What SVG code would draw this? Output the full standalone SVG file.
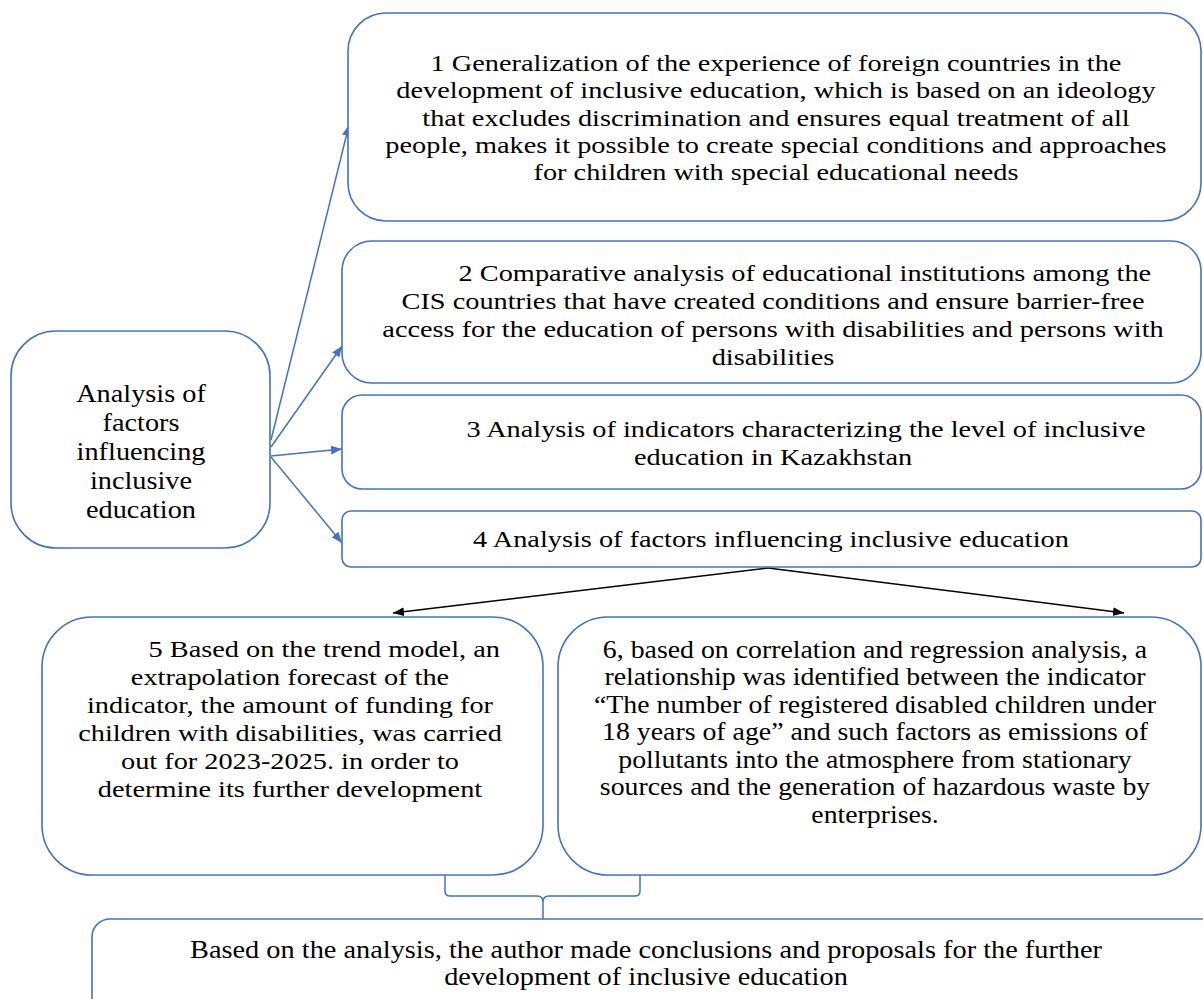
<svg xmlns="http://www.w3.org/2000/svg" width="1203" height="999" viewBox="0 0 1203 999">
<defs>
<style>
.box{fill:#fff;stroke:#4472C4;stroke-width:1.6}
.t{font-family:"Liberation Serif","Times New Roman",serif;font-size:24px;fill:#000;text-anchor:middle}
.t6{font-size:26px}
.tl{font-size:25.5px}
.conn{stroke:#4472C4;stroke-width:1.5;fill:none}
.blk{stroke:#000;stroke-width:1.5;fill:none}
</style>
<marker id="ab" viewBox="0 0 10 10" refX="10" refY="5" markerWidth="11" markerHeight="11" markerUnits="userSpaceOnUse" orient="auto"><path d="M0,1 L10,5 L0,9 z" fill="#4472C4"/></marker>
<marker id="ak" viewBox="0 0 10 10" refX="10" refY="5" markerWidth="11" markerHeight="11" markerUnits="userSpaceOnUse" orient="auto"><path d="M0,1 L10,5 L0,9 z" fill="#000"/></marker>
</defs>
<rect width="1203" height="999" fill="#fff"/>

<g id="connectors">
<line class="conn" x1="271" y1="440" x2="349" y2="125" marker-end="url(#ab)"/>
<line class="conn" x1="271" y1="447" x2="342" y2="346" marker-end="url(#ab)"/>
<line class="conn" x1="271" y1="456" x2="342" y2="449" marker-end="url(#ab)"/>
<line class="conn" x1="271" y1="457" x2="342" y2="543" marker-end="url(#ab)"/>
<line class="blk" x1="768" y1="568" x2="393" y2="613" marker-end="url(#ak)"/>
<line class="blk" x1="768" y1="568" x2="1124" y2="613" marker-end="url(#ak)"/>
<path class="conn" d="M445,873 L445,891 Q445,896 450,896 L537,896 Q543,896 543,902 L543,919 M543,902 Q543,896 549,896 L635,896 Q640,896 640,891 L640,873"/>
</g>

<g id="node-left">
<rect class="box" x="11" y="331" width="259" height="217" rx="45"/>
<g transform="translate(141,0) scale(1.11,1)">
<text class="t tl" x="0" y="402">Analysis of</text>
<text class="t tl" x="0" y="431">factors</text>
<text class="t tl" x="0" y="460">influencing</text>
<text class="t tl" x="0" y="489">inclusive</text>
<text class="t tl" x="0" y="518">education</text>
</g>
</g>

<g id="node-1">
<rect class="box" x="348" y="13" width="853" height="208" rx="38"/>
<g transform="translate(776,0) scale(1.18,1)">
<text class="t" x="0" y="71">1 Generalization of the experience of foreign countries in the</text>
<text class="t" x="0" y="98.5">development of inclusive education, which is based on an ideology</text>
<text class="t" x="0" y="126">that excludes discrimination and ensures equal treatment of all</text>
<text class="t" x="0" y="153">people, makes it possible to create special conditions and approaches</text>
<text class="t" x="0" y="180">for children with special educational needs</text>
</g>
</g>

<g id="node-2">
<rect class="box" x="342" y="241" width="859" height="142" rx="30"/>
<g transform="translate(773,0) scale(1.18,1)">
<text class="t" x="27" y="281">2 Comparative analysis of educational institutions among the</text>
<text class="t" x="0" y="309">CIS countries that have created conditions and ensure barrier-free</text>
<text class="t" x="0" y="337">access for the education of persons with disabilities and persons with</text>
<text class="t" x="0" y="365">disabilities</text>
</g>
</g>

<g id="node-3">
<rect class="box" x="342" y="395" width="859" height="94" rx="20"/>
<g transform="translate(773,0) scale(1.18,1)">
<text class="t" x="28" y="437">3 Analysis of indicators characterizing the level of inclusive</text>
<text class="t" x="0" y="465">education in Kazakhstan</text>
</g>
</g>

<g id="node-4">
<rect class="box" x="342" y="511" width="859" height="56" rx="9"/>
<g transform="translate(771,0) scale(1.18,1)">
<text class="t" x="0" y="547">4 Analysis of factors influencing inclusive education</text>
</g>
</g>

<g id="node-5">
<rect class="box" x="42" y="617" width="501" height="258" rx="50"/>
<g transform="translate(290,0) scale(1.18,1)">
<text class="t" x="29" y="657">5 Based on the trend model, an</text>
<text class="t" x="0" y="685">extrapolation forecast of the</text>
<text class="t" x="0" y="713">indicator, the amount of funding for</text>
<text class="t" x="0" y="741">children with disabilities, was carried</text>
<text class="t" x="0" y="769">out for 2023-2025. in order to</text>
<text class="t" x="0" y="797">determine its further development</text>
</g>
</g>

<g id="node-6">
<rect class="box" x="558" y="617" width="643" height="258" rx="50"/>
<g transform="translate(875,0) scale(1.07,1)">
<text class="t t6" x="0" y="658">6, based on correlation and regression analysis, a</text>
<text class="t t6" x="0" y="685.5">relationship was identified between the indicator</text>
<text class="t t6" x="0" y="713">“The number of registered disabled children under</text>
<text class="t t6" x="0" y="740.5">18 years of age” and such factors as emissions of</text>
<text class="t t6" x="0" y="768">pollutants into the atmosphere from stationary</text>
<text class="t t6" x="0" y="795.5">sources and the generation of hazardous waste by</text>
<text class="t t6" x="0" y="823">enterprises.</text>
</g>
</g>

<g id="node-7">
<rect class="box" x="92" y="919" width="1130" height="100" rx="18"/>
<g transform="translate(646,0) scale(1.09,1)">
<text class="t t6" x="0" y="958">Based on the analysis, the author made conclusions and proposals for the further</text>
<text class="t t6" x="0" y="985">development of inclusive education</text>
</g>
</g>
</svg>
